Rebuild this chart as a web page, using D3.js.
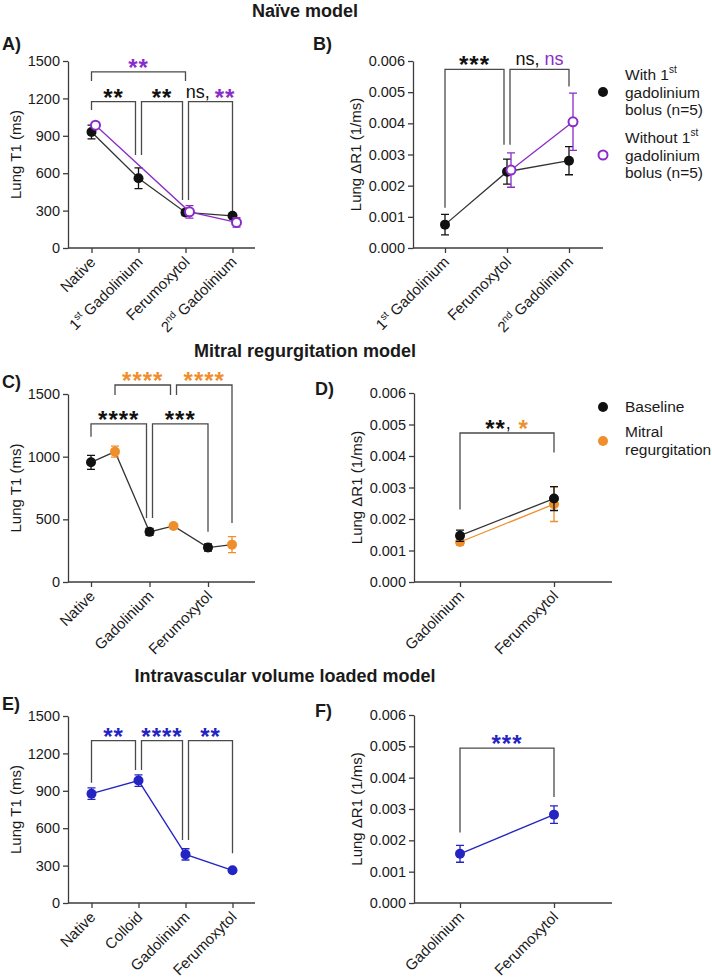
<!DOCTYPE html>
<html>
<head>
<meta charset="utf-8">
<script src="https://cdn.jsdelivr.net/npm/d3@7"></script>
<style>
  body { margin: 0; background: #fff; }
  text { font-family: "Liberation Sans", Arial, sans-serif; fill: #1a1a1a; }
</style>
</head>
<body>
<div id="chart"></div>
<script>
// ---------- data ----------
// A) naive model, lung T1 (ms)
const catsA = ["Native", "1st Gadolinium", "Ferumoxytol", "2nd Gadolinium"];
const withBolusT1 = [930, 560, 285, 258];
const withBolusT1Err = [55, 83, 25, 10];
const withoutBolusT1 = [985, null, 290, 205];
const withoutBolusT1Err = [20, null, 50, 38];

// B) naive model, lung dR1 (1/ms)
const catsB = ["1st Gadolinium", "Ferumoxytol", "2nd Gadolinium"];
const withBolusR1 = [0.00075, 0.00245, 0.0028];
const withBolusR1Err = [0.00033, 0.0004, 0.00045];
const withoutBolusR1 = [null, 0.0025, 0.00405];
const withoutBolusR1Err = [null, 0.00055, 0.00092];

// C) mitral regurgitation, lung T1
const catsC = ["Native", "Gadolinium", "Ferumoxytol"];
const baselineT1 = [955, 400, 275];
const baselineT1Err = [56, 28, 28];
const mitralT1 = [1040, 447, 298];
const mitralT1Err = [44, 18, 64];

// D) mitral regurgitation, lung dR1
const catsD = ["Gadolinium", "Ferumoxytol"];
const baselineR1 = [0.00147, 0.00265];
const baselineR1Err = [0.00018, 0.00038];
const mitralR1 = [0.00127, 0.00247];
const mitralR1Err = [0.0001, 0.00055];

// E) volume loaded, lung T1
const catsE = ["Native", "Colloid", "Gadolinium", "Ferumoxytol"];
const volumeT1 = [877, 982, 390, 262];
const volumeT1Err = [46, 46, 45, 12];

// F) volume loaded, lung dR1
const catsF = ["Gadolinium", "Ferumoxytol"];
const volumeR1 = [0.00157, 0.00282];
const volumeR1Err = [0.00027, 0.00028];

const t1Ticks = [0, 300, 600, 900, 1200, 1500];
const t1TicksC = [0, 500, 1000, 1500];
const r1Ticks = [0, 0.001, 0.002, 0.003, 0.004, 0.005, 0.006];

// significance brackets: ends are [category index, second series?, side], levels in data units
const bracketsA = [
  {from: [0, 0, 0], to: [2, 0, 0], top: 1412, left: 1340, right: 1340, label: [["**", "p"]]},
  {from: [0, 0, 0], to: [1, 0, -1], top: 1174, left: 1107, right: 746, label: [["**", "k"]]},
  {from: [1, 0, 1], to: [2, 0, -1], top: 1174, left: 746, right: 385, label: [["**", "k"]]},
  {from: [2, 0, 1], to: [3, 0, 0], top: 1174, left: 385, right: 281, label: [["ns, ", "k"], ["**", "p"]]}
];
const bracketsB = [
  {from: [0, 0, 0], to: [1, 0, -1], top: 0.00573, left: 0.00129, right: 0.00331, label: [["***", "k"]]},
  {from: [1, 0, 1], to: [2, 0, 0], top: 0.00573, left: 0.00331, right: 0.00518, label: [["ns, ", "k"], ["ns", "p"]]}
];
const bracketsC = [
  {from: [0, 1, 0], to: [1, 1, -1], top: 1572, left: 1492, right: 1492, label: [["****", "o"]]},
  {from: [1, 1, 1], to: [2, 1, 0], top: 1572, left: 1492, right: 471, label: [["****", "o"]]},
  {from: [0, 0, 0], to: [1, 0, -1], top: 1261, left: 1159, right: 511, label: [["****", "k"]]},
  {from: [1, 0, 1], to: [2, 0, 0], top: 1261, left: 511, right: 401, label: [["***", "k"]]}
];
const bracketsD = [
  {from: [0, 0, 0], to: [1, 0, 0], top: 0.00473, left: 0.0023, right: 0.00411, label: [["**", "k"], [",", "k"], [" *", "o"]]}
];
const bracketsE = [
  {from: [0, 0, 0], to: [1, 0, -1], top: 1302, left: 964, right: 1066, label: [["**", "b"]]},
  {from: [1, 0, 1], to: [2, 0, -1], top: 1302, left: 1066, right: 505, label: [["****", "b"]]},
  {from: [2, 0, 1], to: [3, 0, 0], top: 1302, left: 505, right: 399, label: [["**", "b"]]}
];
const bracketsF = [
  {from: [0, 0, 0], to: [1, 0, 0], top: 0.00494, left: 0.00225, right: 0.00338, label: [["***", "b"]]}
];

// ---------- drawing ----------
const col = {k: "#111111", p: "#8B2CC8", o: "#EE8F2C", b: "#2424C2"};
const AXC = "#3c3c3c";
const BRC = "#4a4a4a";

const svg = d3.select("#chart").append("svg")
  .attr("width", 712).attr("height", 979);

// section titles
[["Naïve model", 305, 17], ["Mitral regurgitation model", 305, 357], ["Intravascular volume loaded model", 285, 682]]
  .forEach(([t, x, y]) => {
    svg.append("text").attr("x", x).attr("y", y).attr("text-anchor", "middle")
      .attr("font-size", 18).attr("font-weight", "bold").text(t);
  });

function panel(o) {
  const g = svg.append("g");
  const x = d3.scalePoint().domain(o.cats).range([o.first, o.last]);
  const y = d3.scaleLinear().domain([0, o.max]).range([o.yBot, o.yTop]);

  // y axis
  const ya = g.append("g").attr("transform", `translate(${o.x0},0)`)
    .call(d3.axisLeft(y).tickValues(o.ticks).tickFormat(o.fmt).tickSize(5).tickSizeOuter(0));
  ya.selectAll("path,line").attr("stroke", AXC).attr("stroke-width", 1.3);
  ya.selectAll("text").attr("font-size", 14.5).attr("fill", "#1a1a1a");

  // x axis
  const xa = g.append("g").attr("transform", `translate(0,${o.yBot})`)
    .call(d3.axisBottom(x).tickSize(5).tickSizeOuter(0).tickFormat(""));
  xa.select(".domain").attr("d", `M${o.x0},0H${o.x1}`);
  xa.selectAll("path,line").attr("stroke", AXC).attr("stroke-width", 1.3);

  o.cats.forEach(c => {
    const t = g.append("text")
      .attr("transform", `translate(${x(c) + 5},${o.yBot + 15}) rotate(-45)`)
      .attr("text-anchor", "end").attr("font-size", 15);
    const m = c.match(/^(\d)(st|nd) (.*)$/);
    if (m) {
      t.append("tspan").text(m[1]);
      t.append("tspan").attr("font-size", 10).attr("dy", -6).text(m[2]);
      t.append("tspan").attr("dy", 6).text(" " + m[3]);
    } else t.text(c);
  });

  // y label
  g.append("text")
    .attr("transform", `translate(${o.ylx},${(o.yTop + o.yBot) / 2}) rotate(-90)`)
    .attr("text-anchor", "middle").attr("font-size", 15).text(o.ylabel);

  // panel letter
  g.append("text").attr("x", o.lx).attr("y", o.ly)
    .attr("font-size", 18).attr("font-weight", "bold").text(o.letter);

  const px = (ci, s) => x(o.cats[ci]) + (s ? o.off : 0);

  // brackets
  o.brackets.forEach(b => {
    const gap = 3;
    const xa1 = px(b.from[0], b.from[1]) + b.from[2] * gap;
    const xb1 = px(b.to[0], b.to[1]) + b.to[2] * gap;
    g.append("path")
      .attr("d", `M${xa1},${y(b.left)}V${y(b.top)}H${xb1}V${y(b.right)}`)
      .attr("fill", "none").attr("stroke", BRC).attr("stroke-width", 1.3);
    const t = g.append("text").attr("x", (xa1 + xb1) / 2).attr("y", y(b.top) - 4)
      .attr("text-anchor", "middle");
    let cur = 0;
    b.label.forEach(([s, c]) => {
      const star = /\*/.test(s);
      const want = star ? 8 : 0;
      t.append("tspan").attr("dy", want - cur)
        .attr("font-size", star ? 24 : 18)
        .attr("font-weight", star ? "bold" : "normal")
        .attr("letter-spacing", star ? 1 : 0)
        .style("fill", col[c]).text(s);
      cur = want;
    });
  });

  // series
  o.series.forEach(se => {
    const pts = se.v.map((v, i) => ({v, e: se.e[i], x: px(i, se.second)}))
      .filter(d => d.v != null);
    if (se.line !== false) {
      g.append("path").datum(pts)
        .attr("d", d3.line().x(d => d.x).y(d => y(d.v)))
        .attr("fill", "none").attr("stroke", se.lineColor || se.color).attr("stroke-width", 1.3);
    }
    pts.forEach(d => {
      g.append("path")
        .attr("d", `M${d.x - 4},${y(d.v + d.e)}H${d.x + 4}M${d.x},${y(d.v + d.e)}V${y(d.v - d.e)}M${d.x - 4},${y(d.v - d.e)}H${d.x + 4}`)
        .attr("stroke", se.color).attr("stroke-width", 1.3).attr("fill", "none");
    });
    g.selectAll(null).data(pts).enter().append("circle")
      .attr("cx", d => d.x).attr("cy", d => y(d.v))
      .attr("r", se.open ? 4.5 : 5)
      .attr("fill", se.open ? "#fff" : se.color)
      .attr("stroke", se.open ? se.color : "none")
      .attr("stroke-width", 2);
  });

  // zigzag line through both series (panel C)
  if (o.zigzag) {
    const pts = [];
    o.cats.forEach((c, i) => o.zigzag.forEach((arr, s) => pts.push([px(i, s), y(arr[i])])));
    g.insert("path", "circle").attr("d", d3.line()(pts))
      .attr("fill", "none").attr("stroke", "#333").attr("stroke-width", 1.3);
  }
  return g;
}

const fmtR1 = d3.format(".3f");

panel({cats: catsA, x0: 68, x1: 255, first: 91.5, last: 232.5, yTop: 61, yBot: 248, max: 1500,
  ticks: t1Ticks, fmt: d3.format("d"), ylabel: "Lung T1 (ms)", ylx: 21, letter: "A)", lx: 2, ly: 50, off: 4,
  brackets: bracketsA,
  series: [
    {v: withBolusT1, e: withBolusT1Err, color: col.k, lineColor: "#333"},
    {v: withoutBolusT1, e: withoutBolusT1Err, color: col.p, second: true, open: true}
  ]});

panel({cats: catsB, x0: 413, x1: 603, first: 445, last: 569, yTop: 61, yBot: 248, max: 0.006,
  ticks: r1Ticks, fmt: fmtR1, ylabel: "Lung ΔR1 (1/ms)", ylx: 361, letter: "B)", lx: 313, ly: 50, off: 4,
  brackets: bracketsB,
  series: [
    {v: withBolusR1, e: withBolusR1Err, color: col.k, lineColor: "#333"},
    {v: withoutBolusR1, e: withoutBolusR1Err, color: col.p, second: true, open: true}
  ]});

panel({cats: catsC, x0: 68, x1: 255, first: 91, last: 208, yTop: 394, yBot: 582, max: 1500,
  ticks: t1TicksC, fmt: d3.format("d"), ylabel: "Lung T1 (ms)", ylx: 21, letter: "C)", lx: 2, ly: 388, off: 24,
  brackets: bracketsC, zigzag: [baselineT1, mitralT1],
  series: [
    {v: baselineT1, e: baselineT1Err, color: col.k, line: false},
    {v: mitralT1, e: mitralT1Err, color: col.o, second: true, line: false}
  ]});

panel({cats: catsD, x0: 414, x1: 612, first: 460, last: 554, yTop: 393, yBot: 582, max: 0.006,
  ticks: r1Ticks, fmt: fmtR1, ylabel: "Lung ΔR1 (1/ms)", ylx: 362, letter: "D)", lx: 315, ly: 395, off: 0,
  brackets: bracketsD,
  series: [
    {v: mitralR1, e: mitralR1Err, color: col.o},
    {v: baselineR1, e: baselineR1Err, color: col.k, lineColor: "#333"}
  ]});

panel({cats: catsE, x0: 68, x1: 255, first: 91.5, last: 232.5, yTop: 716, yBot: 903, max: 1500,
  ticks: t1Ticks, fmt: d3.format("d"), ylabel: "Lung T1 (ms)", ylx: 21, letter: "E)", lx: 2, ly: 710, off: 0,
  brackets: bracketsE,
  series: [{v: volumeT1, e: volumeT1Err, color: col.b}]});

panel({cats: catsF, x0: 414, x1: 612, first: 460, last: 554, yTop: 715, yBot: 903, max: 0.006,
  ticks: r1Ticks, fmt: fmtR1, ylabel: "Lung ΔR1 (1/ms)", ylx: 362, letter: "F)", lx: 315, ly: 717, off: 0,
  brackets: bracketsF,
  series: [{v: volumeR1, e: volumeR1Err, color: col.b}]});

// legends: one text element per line so superscripts do not shift the next line
function legendItem(cx, cy, color, open, lines, y0) {
  svg.append("circle").attr("cx", cx).attr("cy", cy).attr("r", open ? 4.5 : 5)
    .attr("fill", open ? "#fff" : color).attr("stroke", open ? color : "none").attr("stroke-width", 2);
  lines.forEach((l, i) => {
    const t = svg.append("text").attr("x", 625).attr("y", y0 + i * 17.5).attr("font-size", 15.5);
    const m = l.match(/^(.*) (\d)(st)$/);
    if (m) {
      t.append("tspan").text(m[1] + " " + m[2]);
      t.append("tspan").attr("font-size", 10).attr("dy", -7).text(m[3]);
    } else t.text(l);
  });
}
legendItem(603, 92, col.k, false, ["With 1st", "gadolinium", "bolus (n=5)"], 80);
legendItem(603, 155, col.p, true, ["Without 1st", "gadolinium", "bolus (n=5)"], 143);
legendItem(603, 407, col.k, false, ["Baseline"], 412);
legendItem(603, 441, col.o, false, ["Mitral", "regurgitation"], 437);
</script>
</body>
</html>
